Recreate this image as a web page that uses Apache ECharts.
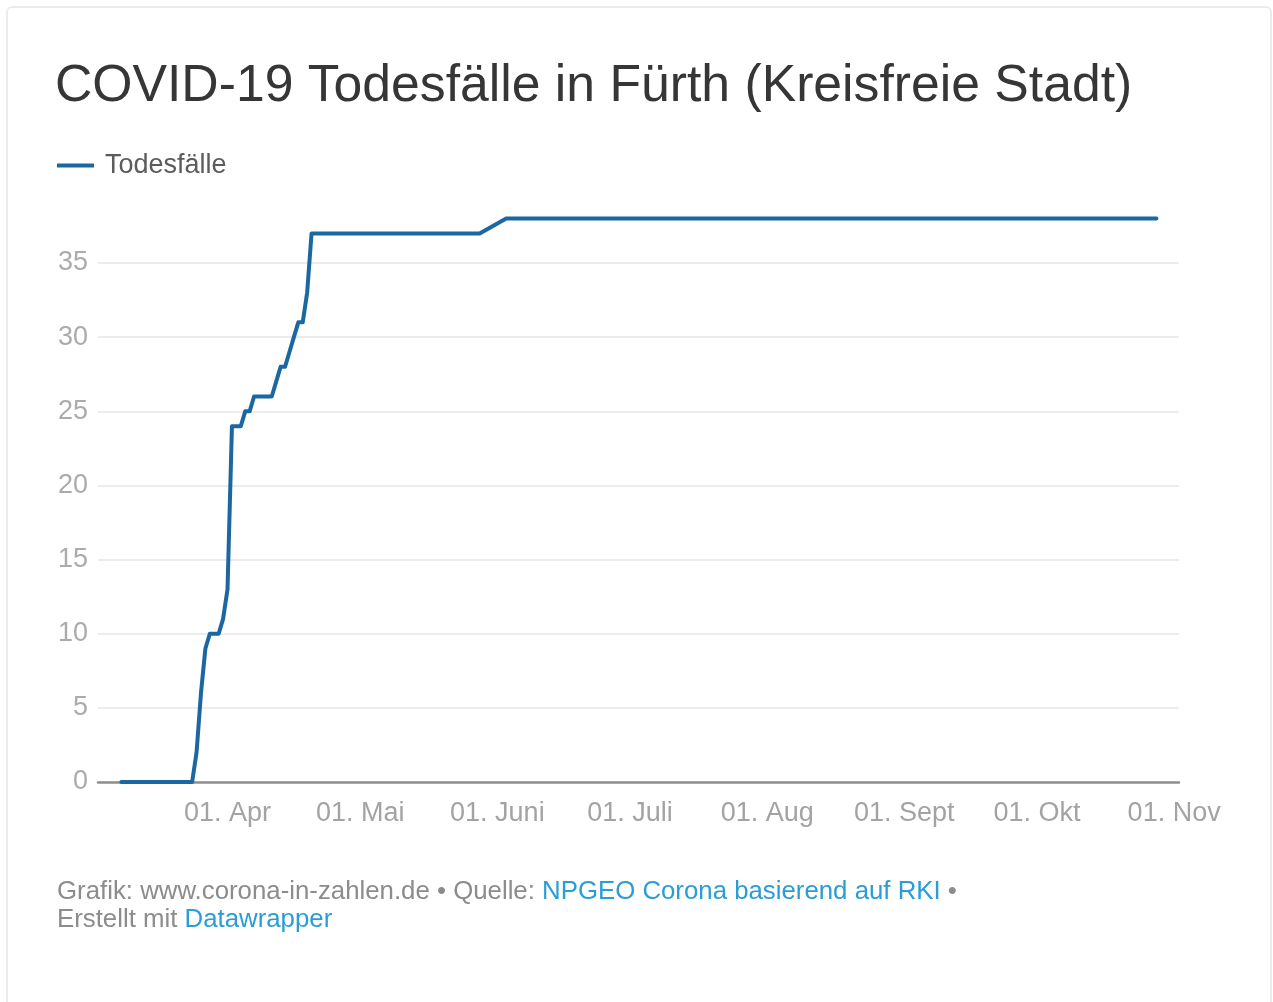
<!DOCTYPE html>
<html>
<head>
<meta charset="utf-8">
<script src="https://cdn.jsdelivr.net/npm/echarts@6/dist/echarts.min.js"></script>
<style>
html,body{margin:0;padding:0;background:#fff;}
#c{width:1273px;height:1002px;}
</style>
</head>
<body>
<div id="c"></div>
<script>
// ---- data ----
const dates = [
  '2020-03-08','2020-03-23','2020-03-24','2020-03-25','2020-03-26','2020-03-27',
  '2020-03-28','2020-03-29','2020-03-30','2020-03-31','2020-04-01','2020-04-02',
  '2020-04-03','2020-04-04','2020-04-05','2020-04-06','2020-04-07','2020-04-11',
  '2020-04-12','2020-04-13','2020-04-14','2020-04-15','2020-04-16','2020-04-17',
  '2020-04-18','2020-04-19','2020-04-20','2020-05-28','2020-06-03','2020-10-28'
];
const deaths = [
  0,0,0,2,6,9,
  10,10,10,11,13,24,
  24,24,25,25,26,26,
  27,28,28,29,30,31,
  31,33,37,37,38,38
];
const tickDates = ['2020-04-01','2020-05-01','2020-06-01','2020-07-01','2020-08-01','2020-09-01','2020-10-01','2020-11-01'];
const tickLabels = ['01. Apr','01. Mai','01. Juni','01. Juli','01. Aug','01. Sept','01. Okt','01. Nov'];
const seriesName = 'Todesfälle';
const titleText = 'COVID-19 Todesfälle in Fürth (Kreisfreie Stadt)';

// ---- helpers ----
const DAY = 86400000;
const ts = s => new Date(s + 'T00:00:00Z').getTime();
const tickTs = tickDates.map(ts);
const labelMap = {};
tickTs.forEach((v, i) => { labelMap[v] = tickLabels[i]; });
const seriesData = dates.map((d, i) => [ts(d), deaths[i]]);
const xMin = ts('2020-03-01') + 1.72 * DAY;
const xMax = ts('2020-03-01') + 246.1 * DAY;

const chart = echarts.init(document.getElementById('c'), null, {renderer: 'canvas'});
const FONT = '"Liberation Sans", Arial, Helvetica, sans-serif';

chart.setOption({
  animation: false,
  backgroundColor: '#ffffff',
  textStyle: {fontFamily: FONT},
  graphic: [{
    type: 'rect',
    shape: {x: 7, y: 7, width: 1264, height: 1020, r: 5},
    style: {fill: 'none', stroke: '#ebebeb', lineWidth: 2},
    silent: true,
    z: -1
  }],
  title: [{
    text: titleText,
    left: 50,
    top: 56,
    textStyle: {fontFamily: FONT, fontSize: 51.7, fontWeight: 'normal', color: '#363636'}
  }, {
    text: '{g|Grafik: www.corona-in-zahlen.de • Quelle: }{b|NPGEO Corona basierend auf RKI}{g| •}\n{g|Erstellt mit }{b|Datawrapper}',
    left: 52,
    top: 873,
    textStyle: {
      fontFamily: FONT,
      fontSize: 25.8,
      fontWeight: 'normal',
      lineHeight: 28,
      rich: {
        g: {fontFamily: FONT, fontSize: 25.8, color: '#8c8c8c', lineHeight: 28},
        b: {fontFamily: FONT, fontSize: 25.8, color: '#2a9dd6', lineHeight: 28}
      }
    }
  }],
  legend: {
    left: 52,
    top: 147,
    icon: 'rect',
    itemWidth: 37,
    itemHeight: 4,
    textStyle: {fontFamily: FONT, fontSize: 27, color: '#5c5c5c', padding: [0, 0, 0, 6]},
    data: [seriesName]
  },
  grid: {left: 98, right: 94, top: 188.9, bottom: 220, containLabel: false},
  xAxis: {
    type: 'value',
    min: xMin,
    max: xMax,
    axisLine: {show: true, lineStyle: {color: '#8e8e8e', width: 2.5}},
    axisTick: {show: false},
    splitLine: {show: false},
    axisLabel: {
      customValues: tickTs,
      formatter: v => labelMap[v] || '',
      fontFamily: FONT,
      fontSize: 27,
      color: '#a3a3a3',
      margin: 18
    }
  },
  yAxis: {
    type: 'value',
    min: 0,
    max: 40,
    interval: 5,
    axisLine: {show: false},
    axisTick: {show: false},
    splitLine: {show: true, showMaxLine: false, lineStyle: {color: '#ececec', width: 2}},
    axisLabel: {
      showMaxLabel: false,
      fontFamily: FONT,
      fontSize: 27,
      color: '#ababab',
      margin: 10,
      padding: [3, 0, 0, 0]
    }
  },
  series: [{
    name: seriesName,
    type: 'line',
    data: seriesData,
    showSymbol: false,
    symbol: 'none',
    color: '#1a67a1',
    lineStyle: {color: '#1a67a1', width: 4, join: 'round', cap: 'round'},
    z: 5
  }]
});
</script>
</body>
</html>
